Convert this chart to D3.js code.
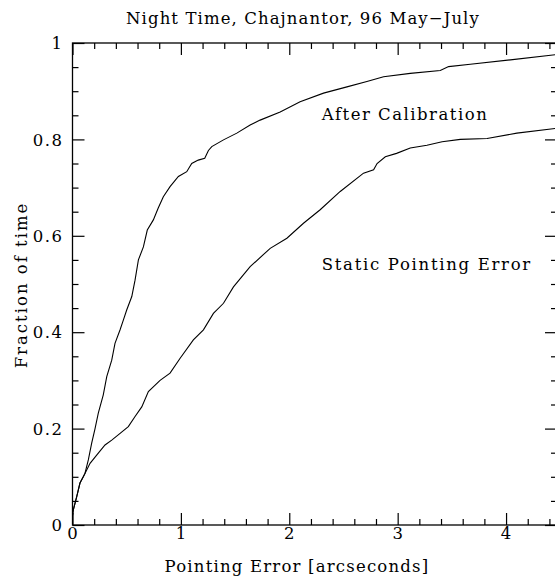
<!DOCTYPE html>
<html>
<head>
<meta charset="utf-8">
<script src="https://cdn.jsdelivr.net/npm/d3@7"></script>
<style>
	body { margin: 0; background: #fff; }
	text { font-family: "DejaVu Serif", serif; fill: #000; font-size: 16.5px; letter-spacing: 1.5px; }
</style>
</head>
<body>
<svg id="pointing-chart" width="555" height="582"></svg>
<script>
// values (cumulative fraction vs pointing error)
var calX = [0, 0.007, 0.039, 0.069, 0.115, 0.146, 0.177, 0.208, 0.238, 0.284, 0.316, 0.362, 0.392, 0.439, 0.469, 0.50, 0.547, 0.577, 0.608, 0.654, 0.69, 0.746, 0.79, 0.838, 0.90, 0.977, 1.054, 1.10, 1.16, 1.22, 1.254, 1.285, 1.393, 1.516, 1.639, 1.731, 1.916, 2.10, 2.316, 2.532, 2.716, 2.87, 3.116, 3.393, 3.47, 3.67, 4.04, 4.47];
var calY = [0.02, 0.031, 0.059, 0.087, 0.107, 0.135, 0.17, 0.2, 0.232, 0.27, 0.308, 0.342, 0.377, 0.405, 0.425, 0.446, 0.474, 0.508, 0.55, 0.577, 0.612, 0.633, 0.657, 0.681, 0.702, 0.723, 0.733, 0.75, 0.757, 0.761, 0.777, 0.785, 0.799, 0.813, 0.83, 0.84, 0.857, 0.878, 0.896, 0.909, 0.92, 0.93, 0.937, 0.943, 0.951, 0.956, 0.965, 0.976];

var staticX = [0, 0.007, 0.039, 0.069, 0.10, 0.162, 0.223, 0.30, 0.362, 0.439, 0.515, 0.577, 0.639, 0.70, 0.808, 0.90, 0.993, 1.115, 1.208, 1.30, 1.393, 1.485, 1.639, 1.824, 1.978, 2.131, 2.285, 2.47, 2.685, 2.778, 2.81, 2.886, 2.99, 3.116, 3.27, 3.41, 3.578, 3.825, 4.10, 4.47];
var staticY = [0.02, 0.031, 0.059, 0.087, 0.10, 0.128, 0.145, 0.166, 0.176, 0.19, 0.204, 0.225, 0.245, 0.277, 0.30, 0.315, 0.346, 0.384, 0.405, 0.439, 0.46, 0.494, 0.536, 0.574, 0.595, 0.626, 0.654, 0.692, 0.73, 0.737, 0.75, 0.764, 0.771, 0.782, 0.788, 0.795, 0.80, 0.802, 0.813, 0.823];

var xMajor = [0, 1, 2, 3, 4];
var yMajor = [0, 0.2, 0.4, 0.6, 0.8, 1];
var xLabels = ["0", "1", "2", "3", "4"];
var yLabels = ["0", "0.2", "0.4", "0.6", "0.8", "1"];
var xDomain = [0, 4.47];
var yDomain = [0, 1];

var margin = {top: 43, left: 72.5},
		width = 484.5,
		height = 482;

var svg = d3.select("svg#pointing-chart");
var g = svg.append("g")
		.attr("transform", "translate(" + margin.left + "," + margin.top + ")");

var x = d3.scaleLinear().domain(xDomain).range([0, width]);
var y = d3.scaleLinear().domain(yDomain).range([height, 0]);

var xMinor = d3.range(0, 4.5, 0.2).filter(function (d) {
	return Math.abs(d - Math.round(d)) > 1e-6;
});
var yMinor = d3.range(0, 1.0001, 0.05).filter(function (d) {
	return Math.abs(d * 5 - Math.round(d * 5)) > 1e-6;
});

//ticks pointing inward on all four sides
function ticksOn(axis, vals, size) {
	return axis.tickValues(vals).tickSize(-size).tickFormat("");
}

g.append("g").attr("class", "ax").attr("transform", "translate(0," + height + ")")
		.call(ticksOn(d3.axisBottom(x), xMajor, 12));
g.append("g").attr("class", "ax").attr("transform", "translate(0," + height + ")")
		.call(ticksOn(d3.axisBottom(x), xMinor, 6));
g.append("g").attr("class", "ax")
		.call(ticksOn(d3.axisTop(x), xMajor, 12));
g.append("g").attr("class", "ax")
		.call(ticksOn(d3.axisTop(x), xMinor, 6));
g.append("g").attr("class", "ax")
		.call(ticksOn(d3.axisLeft(y), yMajor, 12));
g.append("g").attr("class", "ax")
		.call(ticksOn(d3.axisLeft(y), yMinor, 6));
g.append("g").attr("class", "ax").attr("transform", "translate(" + width + ",0)")
		.call(ticksOn(d3.axisRight(y), yMajor, 12));
g.append("g").attr("class", "ax").attr("transform", "translate(" + width + ",0)")
		.call(ticksOn(d3.axisRight(y), yMinor, 6));

g.selectAll(".ax path").remove();
g.selectAll(".ax line").attr("stroke", "#000").attr("stroke-width", 1.2);

g.append("rect")
		.attr("width", width)
		.attr("height", height)
		.attr("fill", "none")
		.attr("stroke", "#000")
		.attr("stroke-width", 1.3);

//tick labels
g.selectAll(".xlab")
		.data(xMajor)
		.enter().append("text")
		.attr("class", "xlab")
		.attr("x", function (d) { return x(d) + 0.75; })
		.attr("y", height + 14)
		.attr("text-anchor", "middle")
		.text(function (d, i) { return xLabels[i]; });

g.selectAll(".ylab")
		.data(yMajor)
		.enter().append("text")
		.attr("class", "ylab")
		.attr("x", -9)
		.attr("y", function (d) { return y(d); })
		.attr("dy", "0.37em")
		.attr("text-anchor", "end")
		.text(function (d, i) { return yLabels[i]; });

//curves
svg.append("clipPath").attr("id", "plot-clip")
		.append("rect").attr("width", width).attr("height", height);

var line = d3.line()
		.x(function (d) { return x(d[0]); })
		.y(function (d) { return y(d[1]); });

var series = [d3.zip(calX, calY), d3.zip(staticX, staticY)];
g.append("g")
		.attr("clip-path", "url(#plot-clip)")
		.selectAll("path")
		.data(series)
		.enter().append("path")
		.attr("d", line)
		.attr("fill", "none")
		.attr("stroke", "#000")
		.attr("stroke-width", 1.1);

//annotations
g.append("text").attr("x", x(2.3)).attr("y", y(0.84)).text("After Calibration");
g.append("text").attr("x", x(2.3)).attr("y", y(0.53)).style("letter-spacing", "1.7px").text("Static Pointing Error");

//titles
svg.append("text")
		.attr("x", 303).attr("y", 24)
		.attr("text-anchor", "middle")
		.style("letter-spacing", "1.1px")
		.text("Night Time, Chajnantor, 96 May\u2212July");

svg.append("text")
		.attr("x", 297).attr("y", 572)
		.attr("text-anchor", "middle")
		.style("letter-spacing", "1.2px")
		.text("Pointing Error [arcseconds]");

svg.append("text")
		.attr("transform", "translate(27,285)rotate(-90)")
		.attr("text-anchor", "middle")
		.style("letter-spacing", "2px")
		.text("Fraction of time");
</script>
</body>
</html>
